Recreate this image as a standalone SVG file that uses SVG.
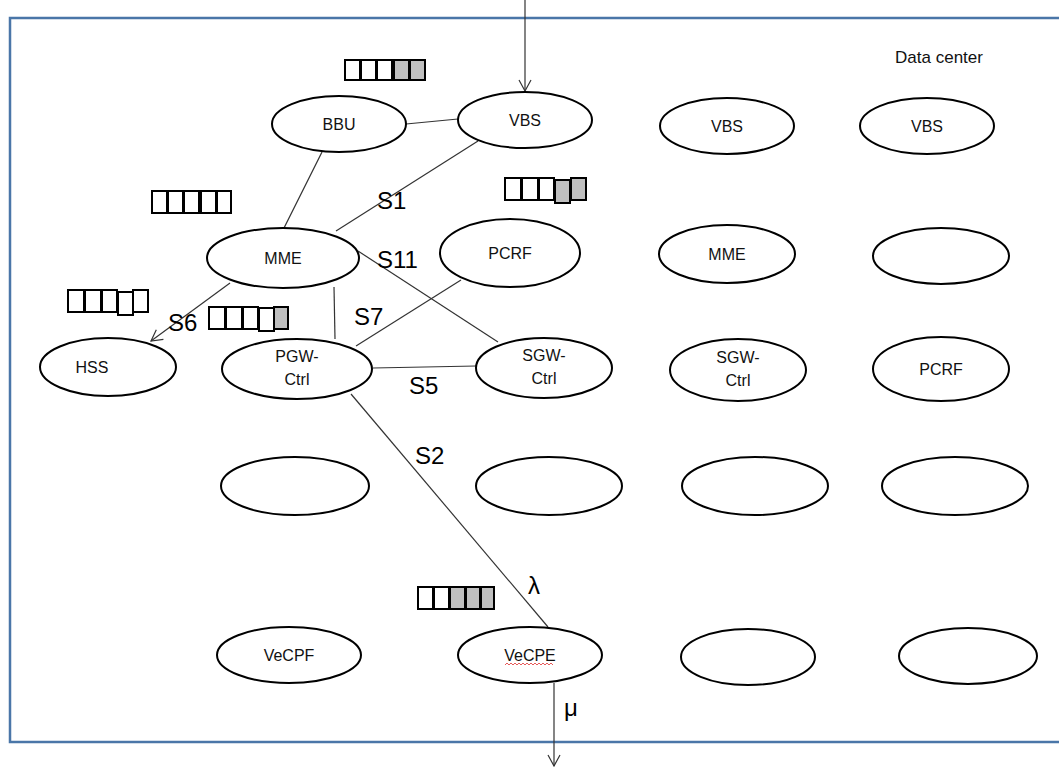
<svg xmlns="http://www.w3.org/2000/svg" width="1059" height="767" viewBox="0 0 1059 767">
<defs>
<style>
.n{fill:#fff;stroke:#000;stroke-width:2}
.t{font-family:"Liberation Sans",Arial,sans-serif;font-size:16px;fill:#111;text-anchor:middle}
.l{font-family:"Liberation Sans",Arial,sans-serif;font-size:24px;fill:#000}
.c{stroke:#333;stroke-width:1.2;fill:none}
.q{fill:#fff;stroke:#000;stroke-width:2}
.g{fill:#bfbfbf;stroke:#000;stroke-width:2}
</style>
<marker id="a" markerWidth="14" markerHeight="14" refX="12" refY="7" orient="auto" markerUnits="userSpaceOnUse">
<path d="M1,1 L12,7 L1,13" fill="none" stroke="#333" stroke-width="1.2"/>
</marker>
</defs>
<rect x="10" y="18" width="1060" height="724" fill="#fff" stroke="#4a76a8" stroke-width="2.5"/>
<text x="939" y="63" class="t" style="font-size:17px">Data center</text>
<g id="connectors">
<line class="c" x1="525" y1="0" x2="525" y2="91" marker-end="url(#a)"/>
<line class="c" x1="406" y1="124" x2="458" y2="119"/>
<line class="c" x1="322" y1="152" x2="284" y2="228"/>
<line class="c" x1="478" y1="141" x2="336" y2="231"/>
<line class="c" x1="230" y1="283" x2="151" y2="341" marker-end="url(#a)"/>
<line class="c" x1="334" y1="287" x2="335" y2="339"/>
<line class="c" x1="358" y1="251" x2="498" y2="342"/>
<line class="c" x1="461" y1="280" x2="356" y2="346"/>
<line class="c" x1="373" y1="368" x2="476" y2="366"/>
<line class="c" x1="351" y1="394" x2="548" y2="627"/>
<line class="c" x1="554" y1="683" x2="554" y2="766" marker-end="url(#a)"/>
<text class="l" x="377" y="209">S1</text>
<text class="l" x="377" y="268">S11</text>
<text class="l" x="168" y="331">S6</text>
<text class="l" x="354" y="325">S7</text>
<text class="l" x="409" y="394">S5</text>
<text class="l" x="415" y="464">S2</text>
<text class="l" x="528" y="594">λ</text>
<text class="l" x="564" y="716">μ</text>
</g>
<g id="q1"><rect class="q" x="345" y="60" width="15" height="20"/><rect class="q" x="361" y="60" width="15" height="20"/><rect class="q" x="377" y="60" width="15" height="20"/><rect class="g" x="394" y="60" width="15" height="20"/><rect class="g" x="410" y="60" width="15" height="20"/></g>
<g id="q2"><rect class="q" x="152" y="191" width="15" height="22"/><rect class="q" x="168" y="191" width="15" height="22"/><rect class="q" x="184" y="191" width="15" height="22"/><rect class="q" x="201" y="191" width="15" height="22"/><rect class="q" x="217" y="191" width="14" height="22"/></g>
<g id="q3"><rect class="q" x="505" y="178" width="16" height="22"/><rect class="q" x="522" y="178" width="16" height="22"/><rect class="q" x="539" y="178" width="15" height="22"/><rect class="g" x="555" y="180" width="15" height="23"/><rect class="g" x="571" y="178" width="15" height="22"/></g>
<g id="q4"><rect class="q" x="68" y="290" width="16" height="22"/><rect class="q" x="85" y="290" width="16" height="22"/><rect class="q" x="102" y="290" width="15" height="22"/><rect class="q" x="118" y="292" width="15" height="23"/><rect class="q" x="133" y="290" width="15" height="22"/></g>
<g id="q5"><rect class="q" x="209" y="307" width="16" height="22"/><rect class="q" x="226" y="307" width="16" height="22"/><rect class="q" x="243" y="307" width="15" height="22"/><rect class="q" x="259" y="308" width="15" height="23"/><rect class="g" x="274" y="307" width="14" height="22"/></g>
<g id="q6"><rect class="q" x="418" y="587" width="15" height="22"/><rect class="q" x="434" y="587" width="15" height="22"/><rect class="g" x="450" y="587" width="15" height="22"/><rect class="g" x="466" y="587" width="14" height="22"/><rect class="g" x="481" y="587" width="13" height="22"/></g>
<g id="bbu"><ellipse class="n" cx="339" cy="124" rx="67" ry="28"/><text class="t" x="339" y="130">BBU</text></g>
<g id="vbs1"><ellipse class="n" cx="525" cy="120" rx="67" ry="28"/><text class="t" x="525" y="126">VBS</text></g>
<g id="vbs2"><ellipse class="n" cx="727" cy="126" rx="67" ry="28"/><text class="t" x="727" y="132">VBS</text></g>
<g id="vbs3"><ellipse class="n" cx="927" cy="126" rx="67" ry="28"/><text class="t" x="927" y="132">VBS</text></g>
<g id="mme1"><ellipse class="n" cx="283" cy="258" rx="76" ry="30"/><text class="t" x="283" y="264">MME</text></g>
<g id="pcrf1"><ellipse class="n" cx="510" cy="253" rx="70" ry="34"/><text class="t" x="510" y="259">PCRF</text></g>
<g id="mme2"><ellipse class="n" cx="727" cy="254" rx="68" ry="29"/><text class="t" x="727" y="260">MME</text></g>
<g id="e1"><ellipse class="n" cx="941" cy="256" rx="68" ry="28"/></g>
<g id="hss"><ellipse class="n" cx="108" cy="367" rx="68" ry="29"/><text class="t" x="92" y="373">HSS</text></g>
<g id="pgw"><ellipse class="n" cx="297" cy="369" rx="75" ry="30"/><text class="t" x="297" y="362">PGW-</text><text class="t" x="297" y="385">Ctrl</text></g>
<g id="sgw1"><ellipse class="n" cx="544" cy="368" rx="68" ry="30"/><text class="t" x="544" y="361">SGW-</text><text class="t" x="544" y="384">Ctrl</text></g>
<g id="sgw2"><ellipse class="n" cx="738" cy="370" rx="68" ry="31"/><text class="t" x="738" y="363">SGW-</text><text class="t" x="738" y="386">Ctrl</text></g>
<g id="pcrf2"><ellipse class="n" cx="941" cy="369" rx="68" ry="32"/><text class="t" x="941" y="375">PCRF</text></g>
<g id="e2"><ellipse class="n" cx="295" cy="486" rx="74" ry="29"/></g>
<g id="e3"><ellipse class="n" cx="549" cy="486" rx="73" ry="29"/></g>
<g id="e4"><ellipse class="n" cx="755" cy="486" rx="73" ry="29"/></g>
<g id="e5"><ellipse class="n" cx="955" cy="486" rx="73" ry="29"/></g>
<g id="vecpf"><ellipse class="n" cx="289" cy="655" rx="72" ry="28"/><text class="t" x="289" y="661">VeCPF</text></g>
<g id="vecpe"><ellipse class="n" cx="530" cy="655" rx="72" ry="28"/><text class="t" x="530" y="661">VeCPE</text><path d="M505,665 l2,-2 l2,2 l2,-2 l2,2 l2,-2 l2,2 l2,-2 l2,2 l2,-2 l2,2 l2,-2 l2,2 l2,-2 l2,2 l2,-2 l2,2 l2,-2 l2,2 l2,-2 l2,2 l2,-2 l2,2 l2,-2 l2,2" fill="none" stroke="#e03030" stroke-width="0.8"/></g>
<g id="e6"><ellipse class="n" cx="748" cy="657" rx="67" ry="28"/></g>
<g id="e7"><ellipse class="n" cx="968" cy="656" rx="69" ry="28"/></g>
</svg>
